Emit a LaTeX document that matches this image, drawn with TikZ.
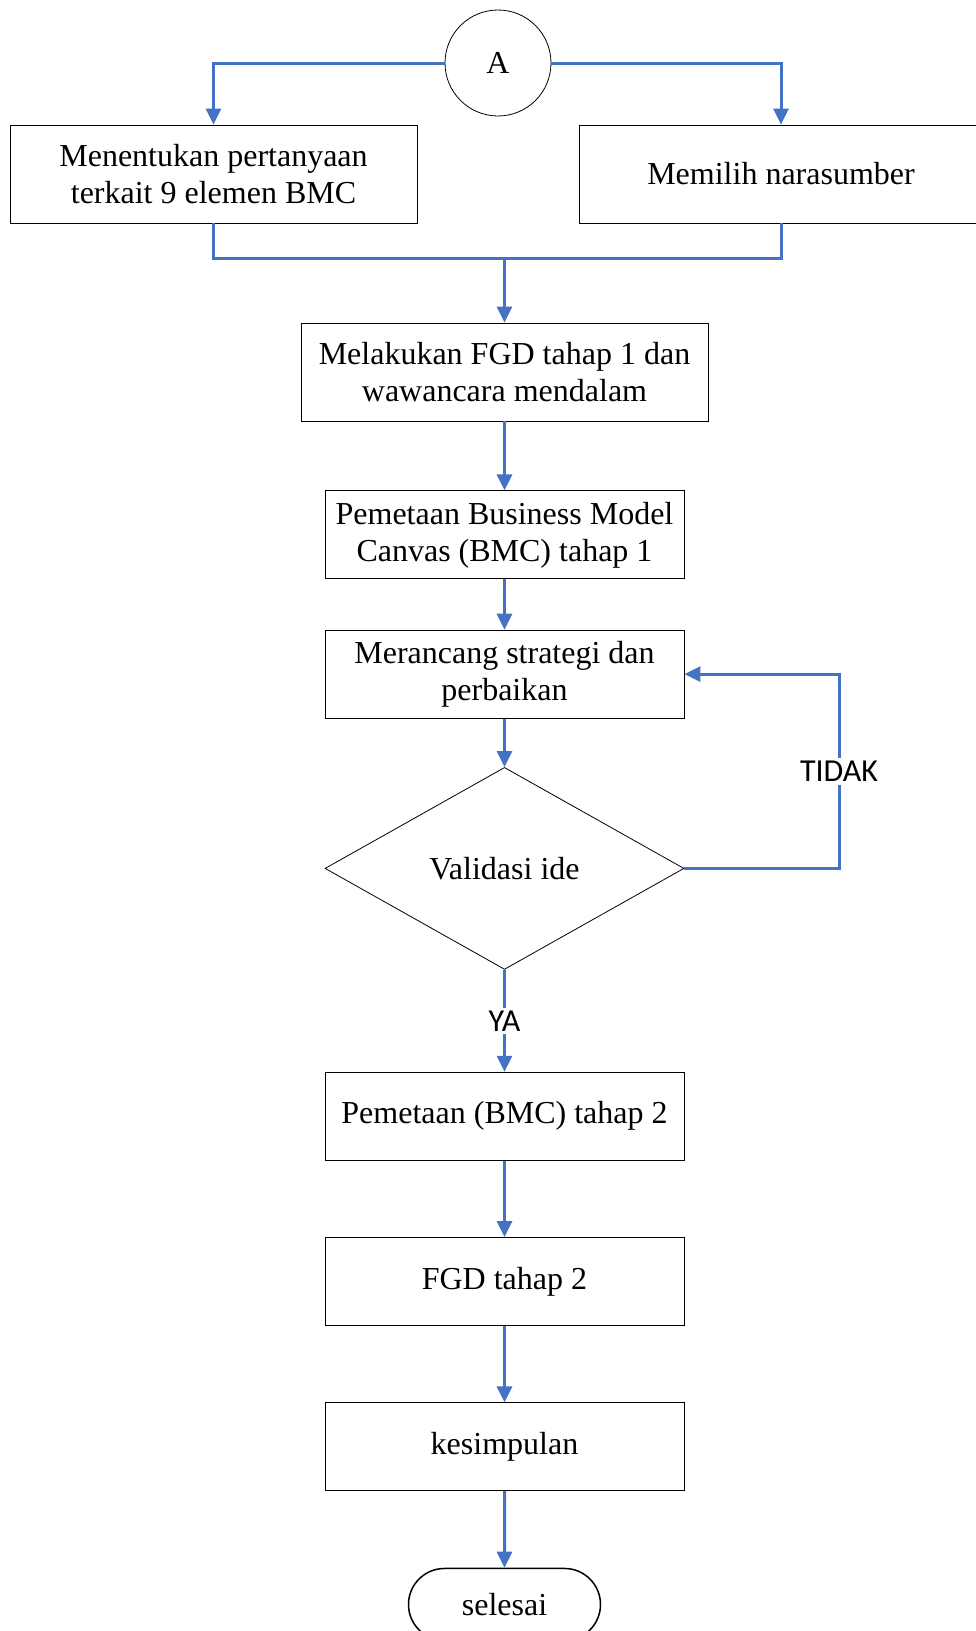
\documentclass[tikz,border=0pt]{standalone}
\usepackage{fontspec}
\setmainfont{Liberation Serif}
\newfontfamily\lblfont{Carlito}
\usetikzlibrary{arrows.meta,positioning,shapes.geometric,shapes.misc}
\definecolor{flowblue}{RGB}{68,114,196}
\tikzset{
  proc/.style={draw=black,line width=0.8pt,fill=white,inner sep=0pt,align=center,
    font=\fontsize{32}{37}\selectfont,minimum width=359pt,minimum height=88pt},
  wide/.style={proc,minimum width=407pt,minimum height=98pt},
  decide/.style={diamond,draw=black,line width=0.8pt,inner sep=0pt,aspect=1.8,
    minimum width=359pt,minimum height=202pt,font=\fontsize{32}{37}\selectfont},
  term/.style={rounded rectangle,draw=black,line width=1.5pt,inner sep=0pt,
    minimum width=192pt,minimum height=72pt,font=\fontsize{32}{37}\selectfont},
  conn/.style={circle,draw=black,line width=0.8pt,inner sep=0pt,minimum size=106pt,
    font=\fontsize{32}{37}\selectfont},
  flow/.style={-{Triangle[length=16pt,width=15pt]},line width=3pt,flowblue},
  plain/.style={line width=3pt,flowblue},
  tag/.style={font=\lblfont\fontsize{32}{34}\selectfont,text=black,fill=white,inner sep=3pt},
}
\begin{document}
\begin{tikzpicture}[x=1pt,y=-1pt]
\useasboundingbox (0,0) rectangle (976,1631);
% top: connector and the two starting tasks
\node[conn] (A) at (498,63) {A};
\node[wide] (Q) at (213.5,174) {Menentukan pertanyaan\\terkait 9 elemen BMC};
\node[wide,minimum width=404pt] (N) at (781,174) {Memilih narasumber};
\coordinate (join) at (504.5,258);

% main chain
\node[wide] (FGD) at (504.5,372) {Melakukan FGD tahap 1 dan\\wawancara mendalam};
\node[proc,below=69pt of FGD] (BMC) {Pemetaan Business Model\\Canvas (BMC) tahap 1};
\node[proc,below=50.5pt of BMC] (RS) {Merancang strategi dan\\perbaikan};
\node[decide,below=48.5pt of RS] (V) {Validasi ide};
\node[proc,below=102pt of V] (BMC2) {Pemetaan (BMC) tahap 2};
\node[proc,below=76.5pt of BMC2] (FGD2) {FGD tahap 2};
\node[proc,below=76.5pt of FGD2] (K) {kesimpulan};
\node[term,below=76.5pt of K] (END) {selesai};
\coordinate (loop) at (839,0);

% edges
\draw[flow] (A.west) -| (Q.north);
\draw[flow] (A.east) -| (N.north);
\draw[plain] (Q.south) |- (join) -| (N.south);
\draw[flow] (join) -- (FGD.north);
\draw[flow] (FGD) -- (BMC);
\draw[flow] (BMC) -- (RS);
\draw[flow] (RS) -- (V);
\draw[flow] (V) -- node[tag,pos=0.5] {YA} (BMC2);
\draw[flow] (V.east) -- (V.east -| loop) -- node[tag,pos=0.5] {TIDAK} (loop |- RS.east) -- (RS.east);
\draw[flow] (BMC2) -- (FGD2);
\draw[flow] (FGD2) -- (K);
\draw[flow] (K) -- (END);
\end{tikzpicture}
\end{document}
